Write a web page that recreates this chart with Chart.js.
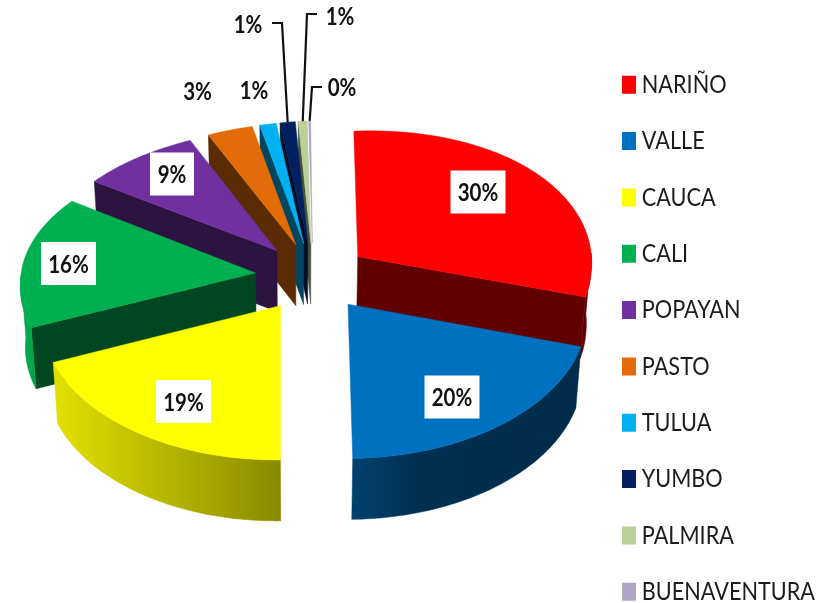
<!DOCTYPE html>
<html><head><meta charset="utf-8">
<style>html,body{margin:0;padding:0;background:#fff}canvas{display:block}</style>
<script src="https://cdn.jsdelivr.net/npm/chart.js@4/dist/chart.umd.js"></script>
</head><body>
<canvas id="c" width="831" height="603"></canvas>
<script>
const categories = ['NARIÑO','VALLE','CAUCA','CALI','POPAYAN','PASTO','TULUA','YUMBO','PALMIRA','BUENAVENTURA'];
const values = [30,20,19,16,8.6,3.3,1.2,1.1,0.65,0.15];
const colors = ['#ff0000','#0070c0','#ffff00','#00b050','#7030a0','#e36c09','#00b0f0','#002060','#bbcf98','#b3a2c7'];
const explode = [56,58,58,58,58,58,58,58,58,58];
// label centres, white-box flags and leader elbows are layout only
const labelCentres = [[478,192],[452,397],[183.5,401.5],[68.5,263.5],[172,174],[197.5,91],[254,90],[248,24],[340,16],[342,87]];
const boxed = [true,true,true,true,true,false,false,false,false,false];
const leaders = {7:[[282,23],[272,23]],8:[[307,14],[317,14]],9:[[312,87],[322,87]]};

// tilted-plane projection of the pie plane
const PIE = {cx:313, cy:276.5, vx:280, a:0.59, b:0.047, shear:0.012, backShear:0.018, leanFront:0.07, leanBack:0.05, depth:61, inset:0.018, vanish:300};
const TEXT_SQUEEZE = 0.85, LEGEND_BOX_LEFT = 622;
function project(U,V,R){
  const lean = V>0 ? PIE.leanFront : PIE.leanBack;
  const back = V<0 ? -PIE.backShear*U*(-V)/200 : 0;
  return {x: PIE.vx + (PIE.cx-PIE.vx+U)*(1+lean*V/R),
          y: PIE.cy + PIE.a*V + PIE.b*V*V/R - PIE.shear*U + back};
}
const drop = p => ({x:p.x+(PIE.vanish-p.x)*PIE.inset, y:p.y+PIE.depth});
function rgb(hex,f){
  const n=parseInt(hex.slice(1),16);
  return `rgb(${Math.round((n>>16&255)*f)},${Math.round((n>>8&255)*f)},${Math.round((n&255)*f)})`;
}
function poly(ctx,pts,fill){
  ctx.beginPath();pts.forEach((p,i)=>i?ctx.lineTo(p.x,p.y):ctx.moveTo(p.x,p.y));ctx.closePath();
  ctx.fillStyle=fill;ctx.fill();
  ctx.strokeStyle=fill;ctx.lineWidth=0.5;ctx.stroke();
}
const SHADE=[[30,.95],[57,.88],[280,.54],[353,.58],[420,.42],[590,.39]];

const pie3d = {
  id:'pie3d',
  afterLayout(chart){
    const l=chart.legend, pad=l.options.labels.padding;
    l.left=628-pad; l.right=l.left+l.width;
    l.top=41.2; l.bottom=l.top+640;
    if(!l._squeezed){
      l._squeezed=true;
      const draw=l.draw.bind(l);
      l.draw=function(area){
        const ctx=chart.ctx;
        ctx.save();
        ctx.translate(LEGEND_BOX_LEFT-TEXT_SQUEEZE*LEGEND_BOX_LEFT,0);
        ctx.scale(TEXT_SQUEEZE,1);
        draw(area);
        ctx.restore();
      };
    }
  },
  beforeDatasetsDraw(chart){
    const ctx=chart.ctx, arcs=chart.getDatasetMeta(0).data;
    const total=values.reduce((s,v)=>s+v,0);
    const slices=arcs.map((el,i)=>{
      const R=el.outerRadius, e=el.options.offset, m=(el.startAngle+el.endAngle)/2;
      const ex=e*Math.cos(m), ey=e*Math.sin(m);
      const rim=a=>project(ex+R*Math.cos(a),ey+R*Math.sin(a),R);
      return {i,el,R,m,rim,apex:project(ex,ey,R)};
    }).sort((p,q)=>Math.sin(p.m)-Math.sin(q.m));
    ctx.save();
    ctx.lineJoin='round';
    slices.forEach(s=>{
      const {el,rim,apex,i}=s, c=colors[i], a0=el.startAngle, a1=el.endAngle;
      const N=Math.max(4,Math.ceil((a1-a0)*60));
      if(Math.cos(a0)<-0.01){const q=rim(a0);poly(ctx,[apex,q,drop(q),drop(apex)],rgb(c,.4));}
      if(Math.cos(a1)>0.01){const q=rim(a1);poly(ctx,[apex,q,drop(q),drop(apex)],rgb(c,.38));}
      const f0=Math.max(a0,0), f1=Math.min(a1,Math.PI);
      if(f1>f0){
        const top=[];const n=Math.max(4,Math.ceil((f1-f0)*60));
        for(let k=0;k<=n;k++)top.push(rim(f0+(f1-f0)*k/n));
        const g=ctx.createLinearGradient(30,0,590,0);
        SHADE.forEach(([x,f])=>g.addColorStop((x-30)/560,rgb(c,f)));
        poly(ctx,top.concat(top.map(drop).reverse()),g);
      }
      const pts=[apex];
      for(let k=0;k<=N;k++)pts.push(rim(a0+(a1-a0)*k/N));
      poly(ctx,pts,c);
    });
    ctx.strokeStyle='#111';ctx.lineWidth=2.2;ctx.lineJoin='miter';
    Object.keys(leaders).forEach(k=>{
      const s=slices.find(t=>t.i==k), p=s.rim(s.m);
      ctx.beginPath();ctx.moveTo(p.x,p.y);leaders[k].forEach(q=>ctx.lineTo(q[0],q[1]));ctx.stroke();
    });
    ctx.font='bold 25px Lato,"Liberation Sans",sans-serif';
    ctx.textAlign='center';ctx.textBaseline='middle';
    values.forEach((v,i)=>{
      const [x,y]=labelCentres[i], t=Math.round(v/total*100)+'%';
      if(boxed[i]){
        const w=i===4?44:55;
        ctx.fillStyle='#fff';ctx.fillRect(x-w/2,y-21.5,w,43);
      }
      ctx.save();
      ctx.translate(x,y+1);ctx.scale(0.82,1);
      ctx.fillStyle='#111';ctx.fillText(t,0,0);
      ctx.restore();
    });
    ctx.restore();
    return false;
  }
};

new Chart(document.getElementById('c'),{
  type:'pie',
  data:{labels:categories,datasets:[{data:values,backgroundColor:colors,borderWidth:0,offset:explode,radius:235}]},
  options:{
    responsive:false,animation:false,
    layout:{padding:0},
    plugins:{
      tooltip:{enabled:false},
      legend:{
        position:'right',align:'start',
        labels:{
          boxWidth:4.5,boxHeight:6,padding:30.83,color:'#1c1c1c',
          font:{family:'Lato,"Liberation Sans",sans-serif',size:25.5},
          generateLabels(chart){
            return Chart.overrides.pie.plugins.legend.labels.generateLabels(chart).map(it=>({...it,strokeStyle:it.fillStyle,lineWidth:12}));
          }
        }
      }
    }
  },
  plugins:[pie3d]
});
</script>
</body></html>
